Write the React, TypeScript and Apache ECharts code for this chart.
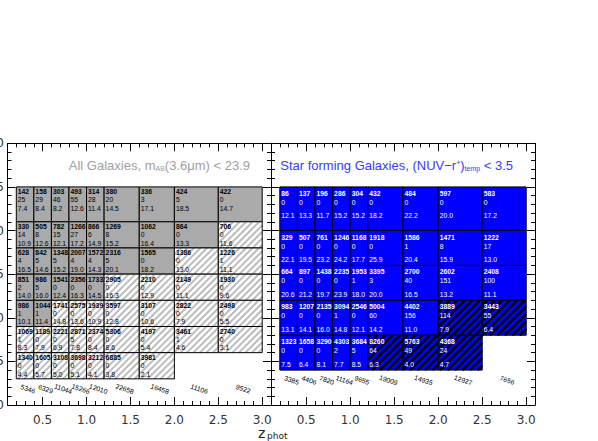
import React, { useEffect, useRef } from 'react';
import * as echarts from 'echarts';

// redshift bin edges (columns)
const zEdges = [0.2, 0.4, 0.6, 0.8, 1.0, 1.2, 1.6, 2.0, 2.5, 3.0];
// mass bin edges, bottom to top
const allMassEdges = [9.3, 9.6, 9.9, 10.2, 10.5, 10.8, 11.1, 11.5];
const sfMassEdges = [9.4, 9.8, 10.2, 10.6, 11.0, 11.5];

// All galaxies, rows top to bottom
const allCounts = [
  [142, 158, 303, 493, 314, 380, 336, 424, 422],
  [330, 505, 782, 1266, 866, 1269, 1062, 864, 706],
  [628, 842, 1348, 2007, 1572, 2316, 1565, 1386, 1226],
  [851, 986, 1541, 2356, 1733, 2905, 2210, 2149, 1930],
  [986, 1044, 1741, 2575, 1939, 3597, 3107, 2822, 2498],
  [1069, 1189, 2221, 2871, 2374, 5306, 4197, 3461, 2740],
  [1340, 1605, 3108, 3698, 3212, 6885, 3981],
];
const allSecond = [
  [25, 29, 46, 55, 28, 20, 3, 5, 0],
  [14, 8, 15, 27, 6, 8, 0, 0, 0],
  [4, 5, 5, 4, 4, 5, 0, 0, 1],
  [2, 5, 0, 0, 0, 0, 0, 0, 0],
  [1, 1, 0, 0, 0, 0, 0, 0, 0],
  [1, 0, 0, 5, 0, 0, 0, 1, 0],
  [0, 0, 0, 0, 0, 0, 0],
];
const allThird = [
  [7.4, 8.4, 8.2, 12.6, 11.4, 14.5, 17.1, 18.5, 14.7],
  [10.9, 12.6, 12.1, 17.2, 14.9, 15.2, 16.4, 13.3, 11.6],
  [16.5, 14.6, 15.2, 19.0, 14.3, 20.1, 18.2, 13.0, 11.1],
  [14.0, 16.0, 12.4, 16.3, 14.5, 16.3, 12.9, 11.1, 9.6],
  [10.1, 11.4, 14.8, 13.6, 10.9, 12.8, 10.6, 7.9, 5.5],
  [8.3, 7.9, 6.9, 7.8, 8.4, 8.6, 5.4, 4.6, 3.1],
  [4.4, 5.7, 5.0, 5.1, 4.1, 3.8, 2.1],
];
// number of complete (non-hatched) cells per row
const allComplete = [9, 8, 7, 5, 2, 0, 0];
const allTotals = [5346, 6329, 11044, 15266, 12010, 22658, 16458, 11106, 9522];

// Star forming galaxies, rows top to bottom
const sfCounts = [
  [86, 137, 196, 286, 304, 432, 484, 597, 583],
  [329, 507, 761, 1246, 1168, 1918, 1586, 1471, 1222],
  [664, 897, 1438, 2235, 1953, 3395, 2700, 2602, 2408],
  [983, 1207, 2135, 3094, 2546, 5004, 4402, 3889, 3443],
  [1323, 1658, 3290, 4303, 3684, 8260, 5763, 4368],
];
const sfSecond = [
  [0, 0, 0, 0, 0, 0, 0, 0, 0],
  [0, 0, 0, 0, 0, 0, 1, 8, 17],
  [0, 0, 0, 0, 1, 3, 40, 151, 100],
  [0, 0, 0, 1, 0, 60, 156, 114, 55],
  [0, 0, 0, 2, 5, 64, 49, 24],
];
const sfThird = [
  [12.1, 13.3, 11.7, 15.2, 15.2, 18.2, 22.2, 20.0, 17.2],
  [22.1, 19.5, 23.2, 24.2, 17.7, 25.9, 20.4, 15.9, 13.0],
  [20.6, 21.2, 19.7, 23.9, 18.0, 20.0, 16.5, 13.2, 11.1],
  [13.1, 14.1, 16.0, 14.8, 12.1, 14.2, 11.0, 7.9, 6.4],
  [7.5, 6.4, 8.1, 7.7, 8.5, 6.3, 4.0, 4.7],
];
const sfComplete = [9, 9, 9, 7, 5];
const sfTotals = [3385, 4406, 7820, 11164, 9655, 19009, 14935, 12927, 7656];

const xTickLabels = ['0.5', '1.0', '1.5', '2.0', '2.5', '3.0'];
const yTickLabels = ['9.0', '9.5', '10.0', '10.5', '11.0', '11.5', '12.0'];

const CELL_FONT = '"Liberation Sans", Arial, Helvetica, sans-serif';
const AXIS_FONT = '"DejaVu Sans", "Liberation Sans", sans-serif';

type Cell = { x0: number; x1: number; y0: number; y1: number; n: number; m: number; f: number; hatched: boolean };

function buildCells(counts: number[][], second: number[][], third: number[][], complete: number[], massEdges: number[]): Cell[] {
  const nRows = counts.length;
  const cells: Cell[] = [];
  counts.forEach((row, r) => {
    const yTop = massEdges[nRows - r];
    const yBot = massEdges[nRows - r - 1];
    row.forEach((n, c) => {
      cells.push({
        x0: zEdges[c], x1: zEdges[c + 1], y0: yBot, y1: yTop,
        n, m: second[r][c], f: third[r][c], hatched: c >= complete[r],
      });
    });
  });
  return cells;
}

type Theme = {
  fill: string; hatchBg: string; stripe: string; stripeWidth: number; spacing: number;
  text: string; textDx: number; lineDy: number[];
};

function makeCellRenderer(cells: Cell[], theme: Theme) {
  return (params: any, api: any) => {
    const c = cells[params.dataIndex];
    const p0 = api.coord([c.x0, c.y1]);
    const p1 = api.coord([c.x1, c.y0]);
    const x = p0[0], y = p0[1], w = p1[0] - p0[0], h = p1[1] - p0[1];
    const children: any[] = [];
    children.push({ type: 'rect', shape: { x, y, width: w, height: h }, style: { fill: c.hatched ? theme.hatchBg : theme.fill } });
    if (c.hatched) {
      const s = theme.spacing;
      const kStart = Math.ceil((x + y) / s) * s;
      for (let k = kStart; k < x + w + y + h; k += s) {
        const xa = Math.max(x, k - (y + h));
        const xb = Math.min(x + w, k - y);
        if (xb <= xa) continue;
        children.push({
          type: 'line',
          shape: { x1: xa, y1: k - xa, x2: xb, y2: k - xb },
          style: { stroke: theme.stripe, lineWidth: theme.stripeWidth },
        });
      }
    }
    children.push({ type: 'rect', shape: { x, y, width: w, height: h }, style: { fill: 'none', stroke: '#000', lineWidth: 1 } });
    const lines = [String(c.n), String(c.m), c.f.toFixed(1)];
    lines.forEach((t, i) => {
      children.push({
        type: 'text',
        x: x + theme.textDx,
        y: y + theme.lineDy[i],
        style: {
          text: t, fill: theme.text, fontSize: 6.8, fontWeight: i === 0 ? 'bold' : 'normal',
          fontFamily: CELL_FONT, align: 'left', verticalAlign: 'middle',
        },
      });
    });
    return { type: 'group', children };
  };
}

function makeTotalsRenderer(totals: number[], bottom: number) {
  return (params: any, api: any) => {
    const i = params.dataIndex;
    const p = api.coord([(zEdges[i] + zEdges[i + 1]) / 2, bottom]);
    return {
      type: 'text',
      x: p[0] + 3,
      y: p[1] + 10,
      rotation: -0.32,
      style: {
        text: String(totals[i]), fill: '#000', fontSize: 6.8, fontFamily: CELL_FONT,
        align: 'center', verticalAlign: 'middle',
      },
    };
  };
}

const near = (a: number, b: number) => Math.abs(a - b) < 1e-6;

function xAxes(gridIndex: number, withLabels: boolean) {
  const base = {
    gridIndex, type: 'value', min: 0.1, max: 3.1,
    splitLine: { show: false }, minorSplitLine: { show: false },
  };
  const major = (position: string, labels: boolean) => ({
    ...base, position, splitNumber: 6,
    axisLine: { show: true, lineStyle: { color: '#000', width: 1 } },
    axisTick: { show: true, inside: true, length: 8, lineStyle: { color: '#000' } },
    axisLabel: {
      show: labels, margin: 9, fontSize: 12, color: '#333', fontFamily: AXIS_FONT,
      showMinLabel: false, showMaxLabel: false,
      formatter: (v: number) => xTickLabels.find((l) => near(parseFloat(l), v)) ?? '',
    },
  });
  const minor = (position: string) => ({
    ...base, position, interval: 0.1,
    axisLine: { show: false },
    axisTick: { show: true, inside: true, length: 4, lineStyle: { color: '#000' } },
    axisLabel: { show: false },
  });
  return [major('bottom', withLabels), minor('bottom'), major('top', false), minor('top')];
}

function yAxis(gridIndex: number, position: string, labels: boolean) {
  return {
    gridIndex, type: 'value', position, min: 9, max: 12, interval: 0.5,
    splitLine: { show: false }, minorSplitLine: { show: false },
    axisLine: { show: true, lineStyle: { color: '#000', width: 1 } },
    axisTick: { show: true, inside: true, length: 8, lineStyle: { color: '#000' } },
    minorTick: { show: true, splitNumber: 5, length: 4, lineStyle: { color: '#000' } },
    axisLabel: {
      show: labels, margin: 3.5, fontSize: 12, color: '#333', fontFamily: AXIS_FONT,
      formatter: (v: number) => yTickLabels.find((l) => near(parseFloat(l), v)) ?? '',
    },
  };
}

export default function App() {
  const ref = useRef<HTMLDivElement>(null);
  useEffect(() => {
    if (!ref.current) return;
    const chart = echarts.init(ref.current, undefined, { renderer: 'svg' });

    const allCells = buildCells(allCounts, allSecond, allThird, allComplete, allMassEdges);
    const sfCells = buildCells(sfCounts, sfSecond, sfThird, sfComplete, sfMassEdges);

    const allTheme: Theme = {
      fill: '#aaaaaa', hatchBg: '#ffffff', stripe: '#bdbdbd', stripeWidth: 2, spacing: 6.5,
      text: '#000', textDx: 1.5, lineDy: [5, 13, 21.5],
    };
    const sfTheme: Theme = {
      fill: '#0000ff', hatchBg: '#0000ff', stripe: '#000000', stripeWidth: 2.6, spacing: 7.5,
      text: '#ffffff', textDx: 1.5, lineDy: [6.5, 15.5, 29],
    };

    const option: any = {
      animation: false,
      backgroundColor: '#ffffff',
      grid: [
        { left: 7.5, top: 143.3, width: 263.5, height: 261.7, containLabel: false, outerBoundsMode: 'none' },
        { left: 271, top: 143.3, width: 264, height: 261.7, containLabel: false, outerBoundsMode: 'none' },
      ],
      xAxis: [...xAxes(0, true), ...xAxes(1, true)],
      yAxis: [yAxis(0, 'left', true), yAxis(0, 'right', false), yAxis(1, 'left', false), yAxis(1, 'right', false)],
      series: [
        {
          type: 'custom', name: 'All galaxies', xAxisIndex: 0, yAxisIndex: 0, silent: true,
          data: allCells.map((c) => [c.x0, c.x1, c.y0, c.y1]),
          encode: { x: [0, 1], y: [2, 3] },
          renderItem: makeCellRenderer(allCells, allTheme),
        },
        {
          type: 'custom', name: 'All totals', xAxisIndex: 0, yAxisIndex: 0, silent: true,
          data: allTotals.map((t, i) => [(zEdges[i] + zEdges[i + 1]) / 2, allMassEdges[0], t]),
          encode: { x: 0, y: 1 },
          renderItem: makeTotalsRenderer(allTotals, allMassEdges[0]),
        },
        {
          type: 'custom', name: 'Star forming', xAxisIndex: 4, yAxisIndex: 2, silent: true,
          data: sfCells.map((c) => [c.x0, c.x1, c.y0, c.y1]),
          encode: { x: [0, 1], y: [2, 3] },
          renderItem: makeCellRenderer(sfCells, sfTheme),
        },
        {
          type: 'custom', name: 'SF totals', xAxisIndex: 4, yAxisIndex: 2, silent: true,
          data: sfTotals.map((t, i) => [(zEdges[i] + zEdges[i + 1]) / 2, sfMassEdges[0], t]),
          encode: { x: 0, y: 1 },
          renderItem: makeTotalsRenderer(sfTotals, sfMassEdges[0]),
        },
      ],
      graphic: [
        {
          type: 'text', x: 250, y: 165.5, silent: true,
          style: {
            text: 'All Galaxies, m{sub|AB}(3.6μm) < 23.9',
            fill: '#a0a0a0', fontSize: 13, fontFamily: CELL_FONT, align: 'right', verticalAlign: 'middle',
            rich: { sub: { fontSize: 7, fill: '#a0a0a0', fontFamily: CELL_FONT, verticalAlign: 'bottom' } },
          },
        },
        {
          type: 'text', x: 513, y: 165.5, silent: true,
          style: {
            text: 'Star forming Galaxies, (NUV−r{sup|+}){sub|temp} < 3.5',
            fill: '#3a3aff', fontSize: 13, fontFamily: CELL_FONT, align: 'right', verticalAlign: 'middle',
            rich: {
              sub: { fontSize: 7, fill: '#3a3aff', fontFamily: CELL_FONT, verticalAlign: 'bottom' },
              sup: { fontSize: 7, fill: '#3a3aff', fontFamily: CELL_FONT, verticalAlign: 'top' },
            },
          },
        },
        {
          type: 'text', x: 258, y: 432.5, silent: true,
          style: { text: 'z', fill: '#222', fontSize: 14, fontFamily: AXIS_FONT, align: 'left', verticalAlign: 'middle' },
        },
        {
          type: 'text', x: 267, y: 436, silent: true,
          style: { text: 'phot', fill: '#222', fontSize: 9, fontFamily: AXIS_FONT, align: 'left', verticalAlign: 'middle' },
        },
      ],
    };
    chart.setOption(option);
    return () => chart.dispose();
  }, []);
  return <div ref={ref} style={{ position: 'absolute', left: 0, top: 0, width: 598, height: 441 }} />;
}
